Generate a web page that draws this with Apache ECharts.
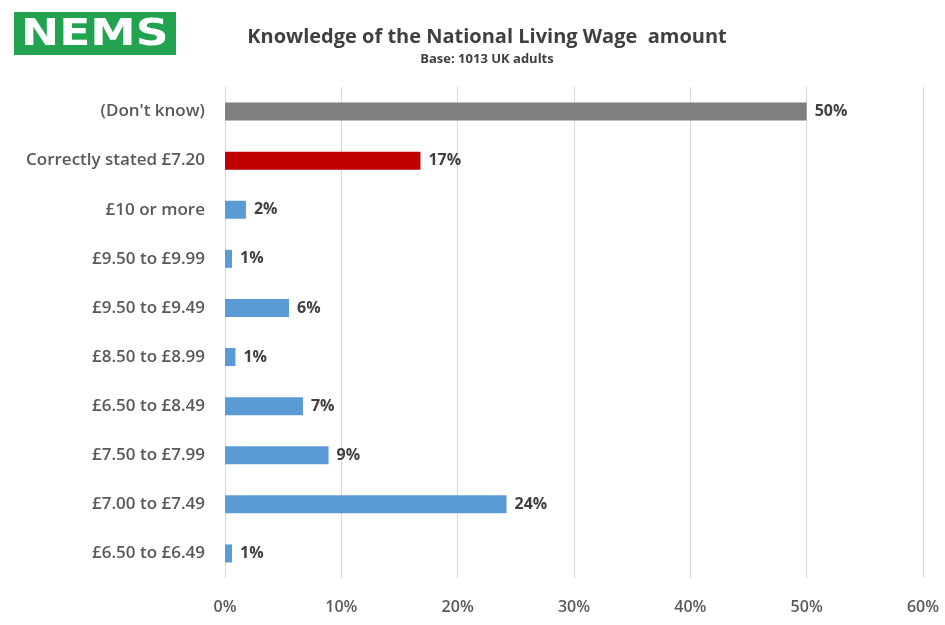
<!DOCTYPE html>
<html><head><meta charset="utf-8">
<script src="https://cdn.jsdelivr.net/npm/echarts@6/dist/echarts.min.js"></script>
<style>html,body{margin:0;padding:0;background:#fff}#c{width:945px;height:625px}</style>
</head><body><div id="c"></div>
<script>
const categories = ["(Don't know)", "Correctly stated £7.20", "£10 or more", "£9.50 to £9.99", "£9.50 to £9.49", "£8.50 to £8.99", "£6.50 to £8.49", "£7.50 to £7.99", "£7.00 to £7.49", "£6.50 to £6.49"];
const values = [50.0, 16.8, 1.8, 0.6, 5.5, 0.9, 6.7, 8.9, 24.2, 0.6];
const barColors = ["#7f7f7f", "#c00000", "#5b9bd5", "#5b9bd5", "#5b9bd5", "#5b9bd5", "#5b9bd5", "#5b9bd5", "#5b9bd5", "#5b9bd5"];
const xTicks = [0, 10, 20, 30, 40, 50, 60];

const chart = echarts.init(document.getElementById('c'));
const font = "'Open Sans', sans-serif";
chart.setOption({
  animation: false,
  graphic: [
    {type: 'rect', left: 14, top: 12, shape: {width: 162, height: 43}, style: {fill: '#21a350'}},
    {type: 'text', x: 21, y: 35, scaleX: 1.2, style: {text: 'NEMS', fill: '#ffffff', verticalAlign: 'middle', font: "bold 38px 'DejaVu Sans', sans-serif"}}
  ],
  title: {
    text: 'Knowledge of the National Living Wage  amount',
    subtext: 'Base: 1013 UK adults',
    left: 482, textAlign: 'center', top: 22, itemGap: 6,
    textStyle: {fontFamily: font, fontWeight: 'bold', fontSize: 20, color: '#404040'},
    subtextStyle: {fontFamily: font, fontWeight: 'bold', fontSize: 13, color: '#404040'}
  },
  grid: {left: 225, right: 22, top: 87, bottom: 47, containLabel: false},
  xAxis: {
    type: 'value', min: xTicks[0], max: xTicks[xTicks.length - 1], interval: 10,
    axisLine: {show: false}, axisTick: {show: false},
    splitLine: {lineStyle: {color: '#d9d9d9', width: 1}},
    axisLabel: {formatter: v => v + '%', margin: 21, color: '#595959', fontFamily: font, fontWeight: 600, fontSize: 16}
  },
  yAxis: {
    type: 'category', data: categories, inverse: true,
    axisLine: {show: false}, axisTick: {show: false},
    axisLabel: {margin: 20, color: '#595959', fontFamily: font, fontWeight: 600, fontSize: 17}
  },
  series: [{
    type: 'bar', barWidth: 18,
    data: values.map((v, i) => ({value: v, itemStyle: {color: barColors[i]}})),
    label: {show: true, position: 'right', distance: 8, formatter: p => Math.round(p.value) + '%',
      color: '#404040', fontFamily: font, fontWeight: 'bold', fontSize: 16}
  }]
});
</script></body></html>
